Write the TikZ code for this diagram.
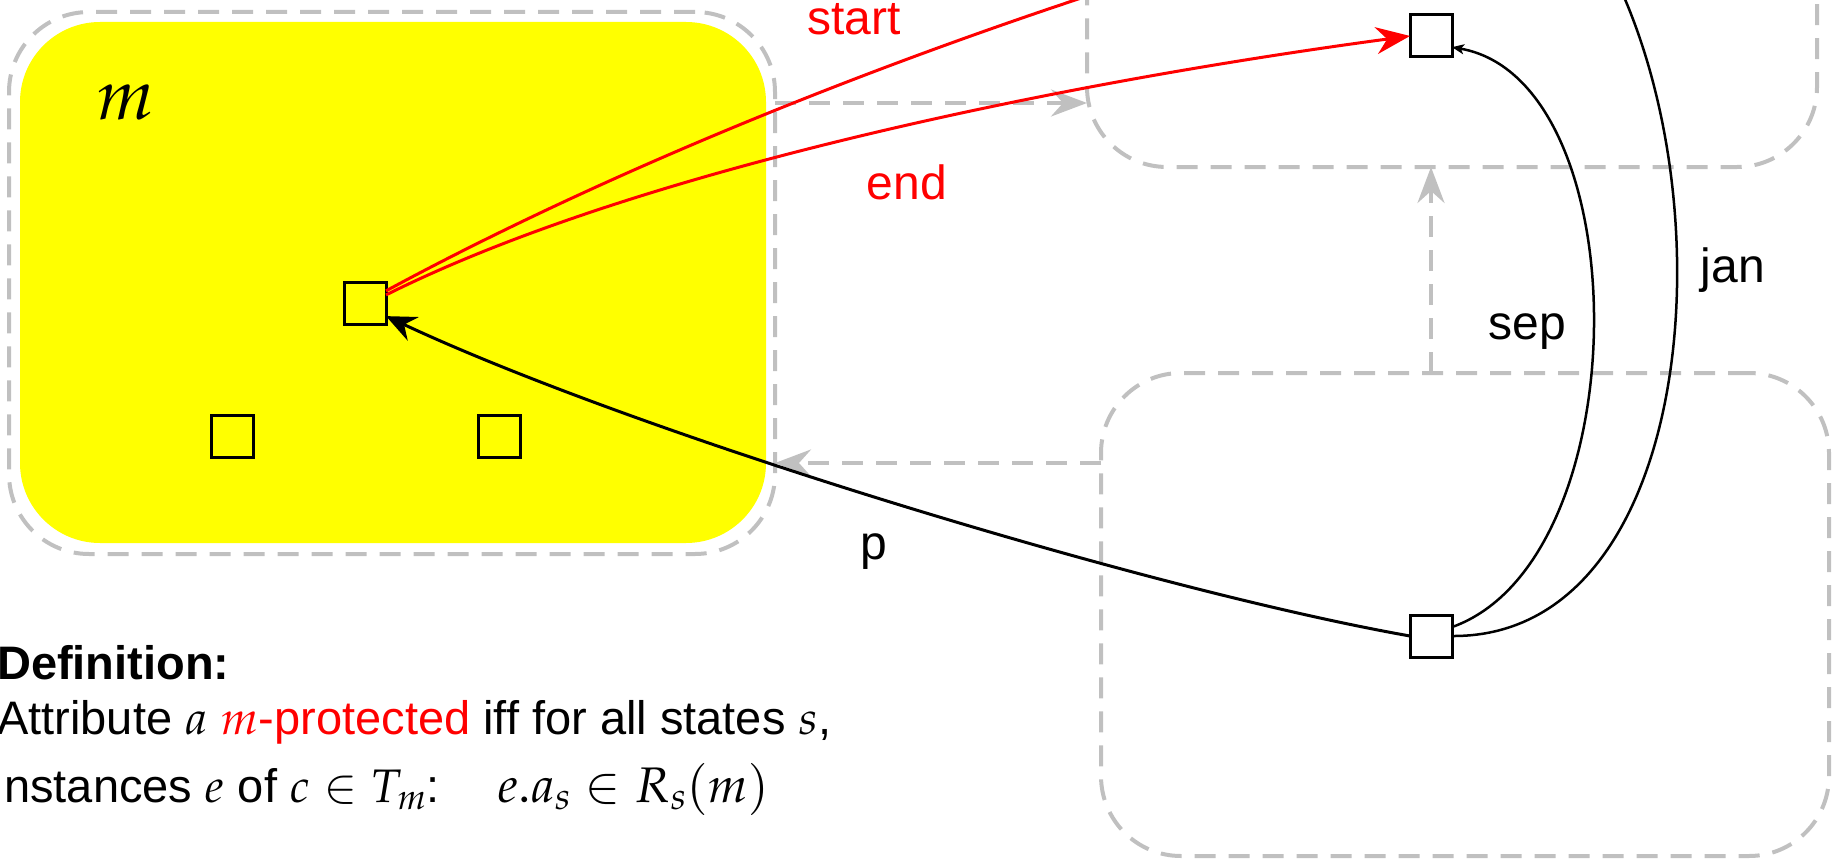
\documentclass[tikz,border=0pt]{standalone}
\usepackage{mathpazo}
\usepackage[no-math]{fontspec}
\setmainfont{Liberation Sans}
\usetikzlibrary{arrows.meta}
\definecolor{boxgray}{RGB}{192,192,192}
\definecolor{myyellow}{RGB}{255,255,0}
\definecolor{myred}{RGB}{255,0,0}
\begin{document}
\begin{tikzpicture}[x=1pt,y=-1pt,
  dbox/.style={draw=boxgray, line width=4pt, dash pattern=on 21pt off 13pt, rounded corners=80pt, inner sep=0pt, outer sep=0pt},
  ybox/.style={fill=myyellow, rounded corners=80pt, inner sep=0pt, outer sep=0pt},
  sq/.style={draw=black, line width=3pt, minimum size=42pt, inner sep=0pt, outer sep=0pt},
  gar/.style={draw=boxgray, line width=4pt, dash pattern=on 21pt off 13pt, -{Stealth[length=36pt,width=27pt,inset=12pt]}},
  redar/.style={draw=myred, line width=3pt, -{Stealth[length=34pt,width=27pt,inset=11pt]}},
  blkar/.style={draw=black, line width=3pt, -{Stealth[length=30pt,width=26pt,inset=10pt]}},
  thinar/.style={draw=black, line width=2.5pt, -{Stealth[length=12pt,width=10pt,inset=3pt]}},
  thinline/.style={draw=black, line width=2.5pt},
  lab/.style={font=\fontsize{48}{56}\selectfont, inner sep=0pt},
  deftext/.style={font=\fontsize{47}{56}\selectfont, inner sep=0pt, anchor=base west}
]
\useasboundingbox (0,0) rectangle (1842,859);
\clip (0,0) rectangle (1842,859);

% containers
\node[ybox, minimum width=746pt, minimum height=521pt] (Y) at (393,282.5) {};
\node[dbox, minimum width=766pt, minimum height=542pt] (L) at (392,283) {};
\node[dbox, minimum width=730pt, minimum height=417pt] (TR) at (1452,-41.5) {};
\node[dbox, minimum width=728pt, minimum height=483pt] (BR) at (1465,614.5) {};

\node[font=\fontsize{72}{80}\selectfont, inner sep=0pt] (mlab) at (126,102) {$m$};

% squares
\node[sq] (C) at (365,303) {};
\node[sq] (S2) at (232,436) {};
\node[sq] (S3) at (499,436) {};
\node[sq] (sqTR) at (1431,36) {};
\node[sq] (sqBR) at (1431,636) {};

% gray dashed arrows
\coordinate (g1) at (0,103);
\coordinate (g2) at (0,463);
\draw[gar] (L.east |- g1) -- (TR.west |- g1);
\draw[gar] (BR.west |- g2) -- (L.east |- g2);
\draw[gar] (BR.north -| sqTR) -- (TR.south -| sqTR);

% off-picture ends
\coordinate (startend) at (1250,-55);
\coordinate (janend) at (1540,-130);

% red connectors
\draw[redar] (C.30) .. controls (600,175) and (900,50) .. (startend);
\draw[redar] (C.21) .. controls (636,170) and (1060,83) .. (sqTR.west);

% black connectors
\draw[blkar] (sqBR.west) .. controls (1150,590) and (640,435) .. (C.-32);
\draw[thinar] (sqBR.23) .. controls (1640,560) and (1640,80) .. (sqTR.-28);
\draw[thinline] (sqBR.east) .. controls (1730,638) and (1740,60) .. (janend);

% labels
\node[lab, text=myred] (lstart) at (854,19) {start};
\node[lab, text=myred] (lend) at (907,182) {end};
\node[lab] (lp) at (874,552) {p};
\node[lab] (lsep) at (1527,332) {sep};
\node[lab] (ljan) at (1733,270) {jan};

% definition text
\node[deftext] (d1) at (-3,679) {\textbf{Definition:}};
\node[deftext] (d2) at (-3,734) {Attribute $a$ \textcolor{myred}{$m$-protected} iff for all states $s$,};
\node[deftext] (d3) at (4,802) {nstances $e$ of $c \in T_m$:\hspace{58pt}{\fontsize{50}{56}\selectfont$e.a_s \in R_s(m)$}};
\end{tikzpicture}
\end{document}
